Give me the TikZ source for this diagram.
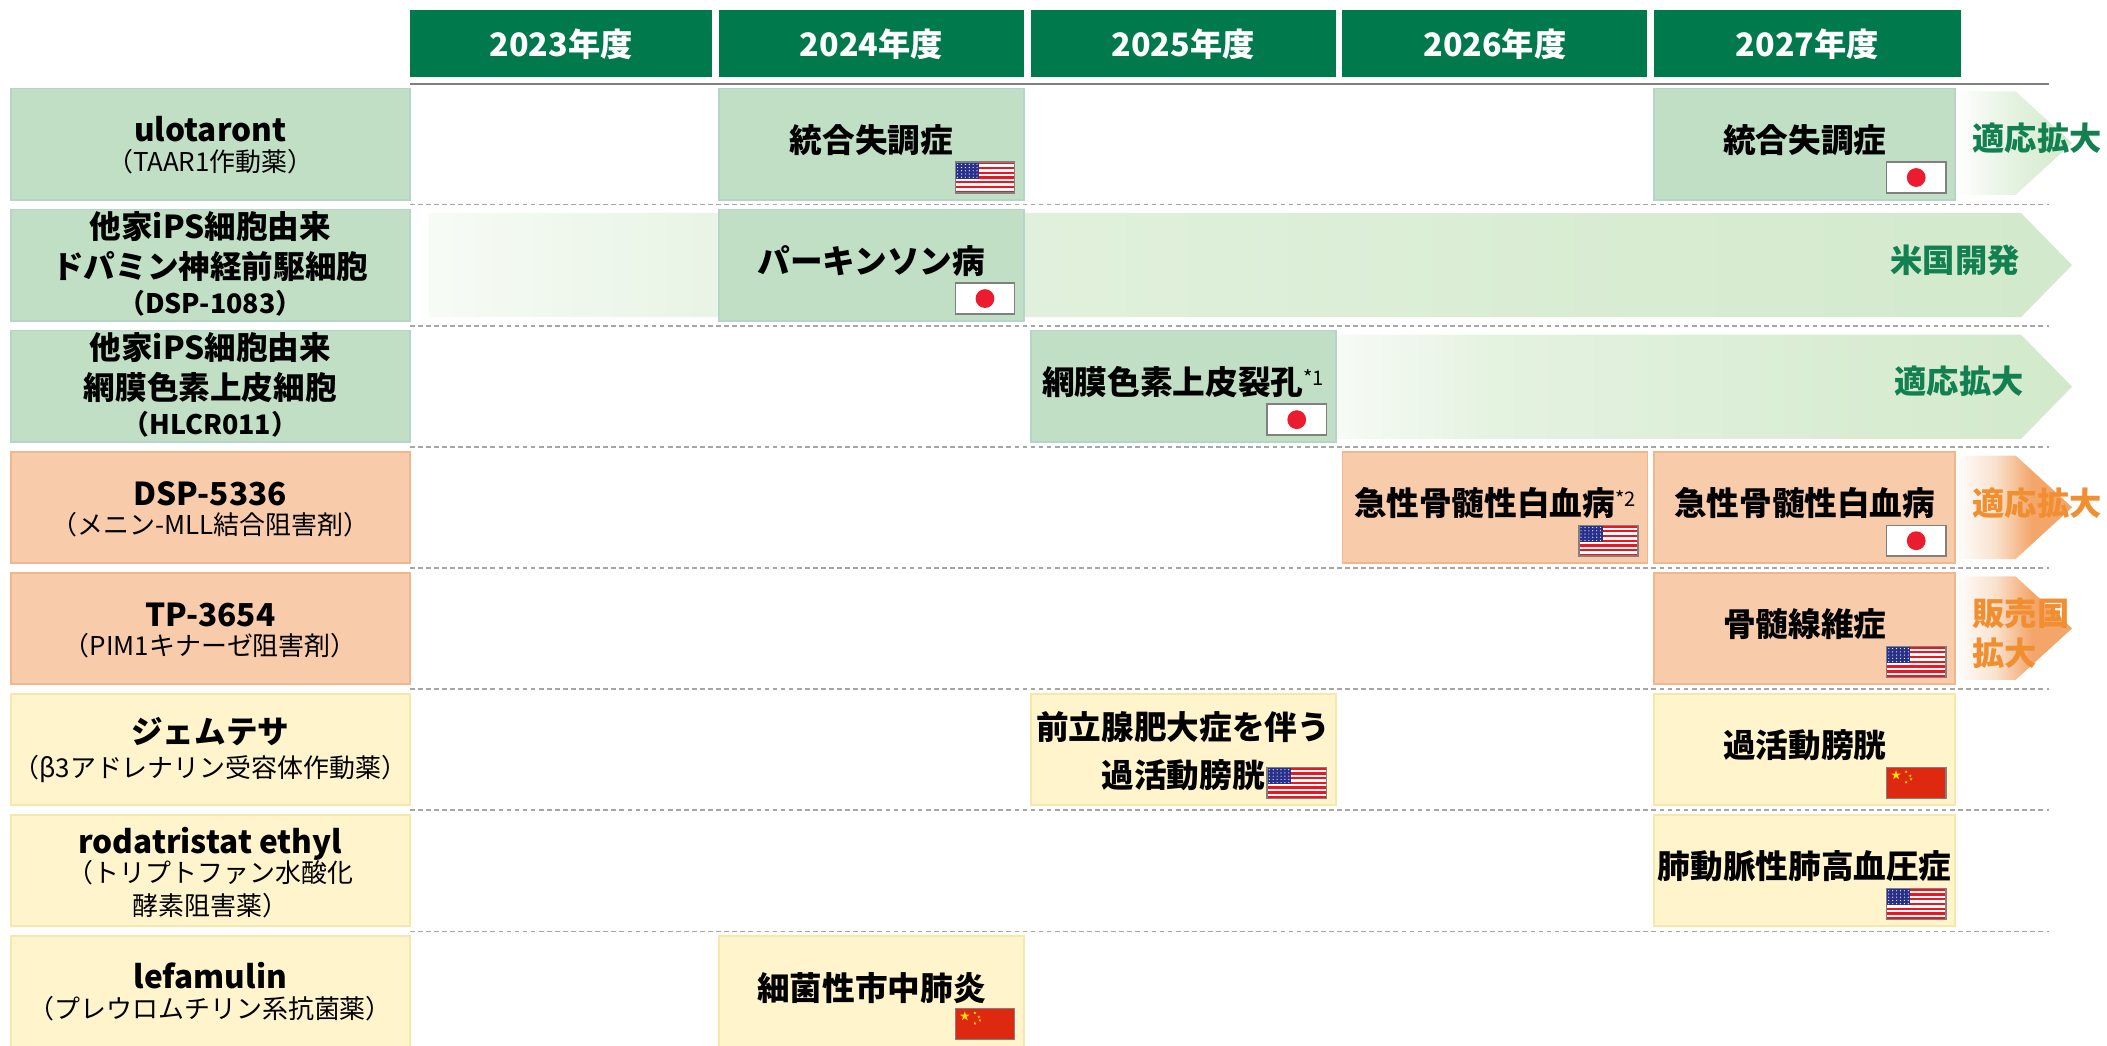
\documentclass[tikz,border=0pt]{standalone}
\usepackage{fontspec}
\setmainfont{Noto Sans CJK JP}
\usetikzlibrary{shapes.geometric}
\definecolor{hdrgreen}{RGB}{0,122,76}
\definecolor{gfill}{RGB}{193,223,197}
\definecolor{gline}{RGB}{182,212,200}
\definecolor{ofill}{RGB}{248,203,171}
\definecolor{oline}{RGB}{240,182,140}
\definecolor{yfill}{RGB}{255,244,204}
\definecolor{yline}{RGB}{246,232,170}
\definecolor{gtext}{RGB}{18,128,80}
\definecolor{otext}{RGB}{240,142,48}
\definecolor{gbandA}{RGB}{228,242,224}
\definecolor{gbandB}{RGB}{210,233,203}
\definecolor{oarrA}{RGB}{249,226,206}
\definecolor{oarrB}{RGB}{243,165,106}
\definecolor{usred}{RGB}{240,20,30}
\definecolor{usblue}{RGB}{40,48,140}
\definecolor{jpred}{RGB}{236,28,48}
\definecolor{cnred}{RGB}{222,41,16}
\definecolor{cnyellow}{RGB}{255,222,0}
\definecolor{flagframe}{RGB}{128,128,128}
\definecolor{dashgray}{RGB}{166,166,166}
\definecolor{solidgray}{RGB}{128,128,128}
\pgfdeclarehorizontalshading{gbandsh}{100bp}{color(0bp)=(white); color(25bp)=(white!70!gbandA); color(36bp)=(gbandA); color(75bp)=(gbandB); color(100bp)=(gbandB)}
\pgfdeclarehorizontalshading{garrsh}{100bp}{color(0bp)=(white); color(25bp)=(white); color(50bp)=(gbandA); color(75bp)=(gbandB); color(100bp)=(gbandB)}
\pgfdeclarehorizontalshading{oarrsh}{100bp}{color(0bp)=(white); color(25bp)=(white); color(42bp)=(oarrA); color(58bp)=(oarrB); color(100bp)=(oarrB)}
\newcommand{\cnstar}[3]{\fill[cnyellow] (#1,#2) +(-90:#3) -- +(54:#3) -- +(198:#3) -- +(342:#3) -- +(126:#3) -- cycle;}
\newcommand{\supfn}[1]{{\mdseries\fontsize{15}{15}\selectfont\raisebox{7pt}{#1}}}
\tikzset{
  base/.style={inner sep=0pt, outer sep=0pt},
  gbox/.style={base, fill=gfill, draw=gline, line width=1.3pt},
  obox/.style={base, fill=ofill, draw=oline, line width=1.3pt},
  ybox/.style={base, fill=yfill, draw=yline, line width=1.3pt},
  bw/.style={minimum width=#1, minimum height=82.8pt},
  hdr/.style={base, fill=hdrgreen, text=white, font=\bfseries\fontsize{24}{28}\selectfont, minimum height=49.5pt, text height=18.5pt, text depth=0pt},
  celltxt/.style={base, font=\bfseries\fontsize{24.3}{28}\selectfont, text height=18.5pt, text depth=0pt},
  lblbold/.style={base, font=\bfseries\fontsize{23.5}{28}\selectfont, text height=17.9pt, text depth=0pt},
  lblsmall/.style={base, font=\bfseries\fontsize{20}{24}\selectfont, text height=15.2pt, text depth=0pt},
  lblreg/.style={base, font=\fontsize{19.3}{23}\selectfont, text height=14.6pt, text depth=0pt},
  gtag/.style={base, text=gtext, font=\bfseries\fontsize{24}{28}\selectfont, text height=18.2pt, text depth=0pt},
  otag/.style={gtag, text=otext},
  dashline/.style={draw=dashgray, line width=1pt, dash pattern=on 3.5pt off 2.5pt},
  hline/.style={draw=solidgray, line width=1.3pt},
  usflag/.pic={
    \fill[white] (-22,-11.5) rectangle (22,11.5);
    \foreach \k in {0,2,...,12}{\fill[usred] (-22,{-11.5+\k*23/13}) rectangle (22,{-11.5+(\k+1)*23/13});}
    \fill[usblue] (-22,-11.5) rectangle (-4.4,{-11.5+7*23/13});
    \foreach \i in {0,...,5}{\foreach \j in {0,...,4}{\fill[white] ({-20.4+\i*2.9},{-9.8+\j*2.4}) circle (0.45);}}
    \draw[flagframe, line width=1.1pt] (-22,-11.5) rectangle (22,11.5);
  },
  jpflag/.pic={
    \fill[white] (-22,-11.5) rectangle (22,11.5);
    \fill[jpred] (0,0) circle (7);
    \draw[flagframe, line width=1.1pt] (-22,-11.5) rectangle (22,11.5);
  },
  cnflag/.pic={
    \fill[cnred] (-22,-11.5) rectangle (22,11.5);
    \cnstar{-15}{-5.75}{3.7}
    \cnstar{-7.5}{-8.25}{1.2}
    \cnstar{-4.5}{-5.25}{1.2}
    \cnstar{-3.8}{-2.75}{1.2}
    \cnstar{-7.5}{-0.5}{1.2}
    \draw[flagframe, line width=1.1pt] (-22,-11.5) rectangle (22,11.5);
  }
}
\begin{document}
\begin{tikzpicture}[x=1pt,y=-1pt]
\useasboundingbox (0,0) rectangle (1568,778.4);
% header
\node[hdr, minimum width=225pt] (h23) at (417.5,32.5) {2023年度};
\node[hdr, minimum width=227pt] (h24) at (648.5,32.5) {2024年度};
\node[hdr, minimum width=227pt] (h25) at (880.5,32.5) {2025年度};
\node[hdr, minimum width=227pt] (h26) at (1112.5,32.5) {2026年度};
\node[hdr, minimum width=228pt] (h27) at (1345,32.5) {2027年度};
\draw[hline] (305,62.3) -- (1525,62.3);
\foreach \yy in {152.4,242.5,332.6,422.7,512.8,602.9,693}{\draw[dashline] (305,\yy) -- (1525,\yy);}
% bands / arrows
\shade[shading=gbandsh] (319,158.5) -- (1504,158.5) -- (1542,197.3) -- (1504,236) -- (319,236) -- cycle;
\shade[shading=gbandsh] (994,249) -- (1504,249) -- (1542,287.8) -- (1504,326.6) -- (994,326.6) -- cycle;
\shade[shading=garrsh] (1455,68) -- (1500,68) -- (1542,106.5) -- (1500,145) -- (1455,145) -- cycle;
\shade[shading=oarrsh] (1455,339) -- (1500,339) -- (1542,377.5) -- (1500,416) -- (1455,416) -- cycle;
\shade[shading=oarrsh] (1455,429) -- (1500,429) -- (1542,467.6) -- (1500,506) -- (1455,506) -- cycle;
% row 1
\node[gbox, bw=297pt] (L1) at (156.5,107.2) {};
\node[lblbold] (L1a) at (156.5,96.7) {ulotaront};
\node[lblreg] (L1b) at (156.5,120) {（TAAR1作動薬）};
\node[gbox, bw=227pt] (C1a) at (648.5,107.2) {};
\node[celltxt] (C1at) at (648.5,104.2) {統合失調症};
\pic at (733,132.1) {usflag};
\node[gbox, bw=224pt] (C1b) at (1343,107.2) {};
\node[celltxt] (C1bt) at (1343,104.2) {統合失調症};
\pic at (1426,132.1) {jpflag};
\node[gtag, anchor=west] (A1) at (1468,103) {適応拡大};
% row 2
\node[gbox, bw=297pt] (L2) at (156.5,197.3) {};
\node[lblbold] (L2a) at (156.5,168.7) {他家iPS細胞由来};
\node[lblbold] (L2b) at (156.5,198.4) {ドパミン神経前駆細胞};
\node[lblsmall] (L2c) at (156.5,225.6) {（DSP-1083）};
\node[gbox, bw=227pt] (C2) at (648.5,197.3) {};
\node[celltxt] (C2t) at (648.5,194.3) {パーキンソン病};
\pic at (733,222.2) {jpflag};
\node[gtag, anchor=east] (A2) at (1503,194) {米国開発};
% row 3
\node[gbox, bw=297pt] (L3) at (156.5,287.4) {};
\node[lblbold] (L3a) at (156.5,258.8) {他家iPS細胞由来};
\node[lblbold] (L3b) at (156.5,288.5) {網膜色素上皮細胞};
\node[lblsmall] (L3c) at (156.5,315.7) {（HLCR011）};
\node[gbox, bw=227pt] (C3) at (880.5,287.4) {};
\node[celltxt] (C3t) at (880.5,284.4) {網膜色素上皮裂孔\supfn{*1}};
\pic at (965,312.3) {jpflag};
\node[gtag, anchor=east] (A3) at (1506,284) {適応拡大};
% row 4
\node[obox, bw=297pt] (L4) at (156.5,377.5) {};
\node[lblbold] (L4a) at (156.5,367) {DSP-5336};
\node[lblreg] (L4b) at (156.5,390.3) {（メニン-MLL結合阻害剤）};
\node[obox, bw=227pt] (C4a) at (1112.5,377.5) {};
\node[celltxt] (C4at) at (1112.5,374.5) {急性骨髄性白血病\supfn{*2}};
\pic at (1197,402.4) {usflag};
\node[obox, bw=224pt] (C4b) at (1343,377.5) {};
\node[celltxt] (C4bt) at (1343,374.5) {急性骨髄性白血病};
\pic at (1426,402.4) {jpflag};
\node[otag, anchor=west] (A4) at (1468,374.5) {適応拡大};
% row 5
\node[obox, bw=297pt] (L5) at (156.5,467.6) {};
\node[lblbold] (L5a) at (156.5,457) {TP-3654};
\node[lblreg] (L5b) at (156.5,480.4) {（PIM1キナーゼ阻害剤）};
\node[obox, bw=224pt] (C5) at (1343,467.6) {};
\node[celltxt] (C5t) at (1343,464.6) {骨髄線維症};
\pic at (1426,492.5) {usflag};
\node[otag, anchor=west] (A5a) at (1468,456.4) {販売国};
\node[otag, anchor=west] (A5b) at (1468,486) {拡大};
% row 6
\node[ybox, bw=297pt] (L6) at (156.5,557.7) {};
\node[lblbold] (L6a) at (156.5,544) {ジェムテサ};
\node[lblreg] (L6b) at (156.5,571) {（β3アドレナリン受容体作動薬）};
\node[ybox, bw=227pt] (C6a) at (880.5,557.7) {};
\node[celltxt] (C6at) at (880.5,541) {前立腺肥大症を伴う};
\node[celltxt] (C6au) at (880.5,577) {過活動膀胱};
\pic at (965,582.6) {usflag};
\node[ybox, bw=224pt] (C6b) at (1343,557.7) {};
\node[celltxt] (C6bt) at (1343,554.7) {過活動膀胱};
\pic at (1426,582.6) {cnflag};
% row 7
\node[ybox, bw=297pt] (L7) at (156.5,647.8) {};
\node[lblbold] (L7a) at (156.5,626) {rodatristat ethyl};
\node[lblreg] (L7b) at (156.5,649.5) {（トリプトファン水酸化};
\node[lblreg] (L7c) at (156.5,674) {酵素阻害薬）};
\node[ybox, bw=224pt] (C7) at (1343,647.8) {};
\node[celltxt] (C7t) at (1343,644.8) {肺動脈性肺高血圧症};
\pic at (1426,672.7) {usflag};
% row 8
\node[ybox, bw=297pt] (L8) at (156.5,737.9) {};
\node[lblbold] (L8a) at (156.5,726.7) {lefamulin};
\node[lblreg] (L8b) at (156.5,751) {（プレウロムチリン系抗菌薬）};
\node[ybox, bw=227pt] (C8) at (648.5,737.9) {};
\node[celltxt] (C8t) at (648.5,735) {細菌性市中肺炎};
\pic at (733,762) {cnflag};
\end{tikzpicture}
\end{document}
